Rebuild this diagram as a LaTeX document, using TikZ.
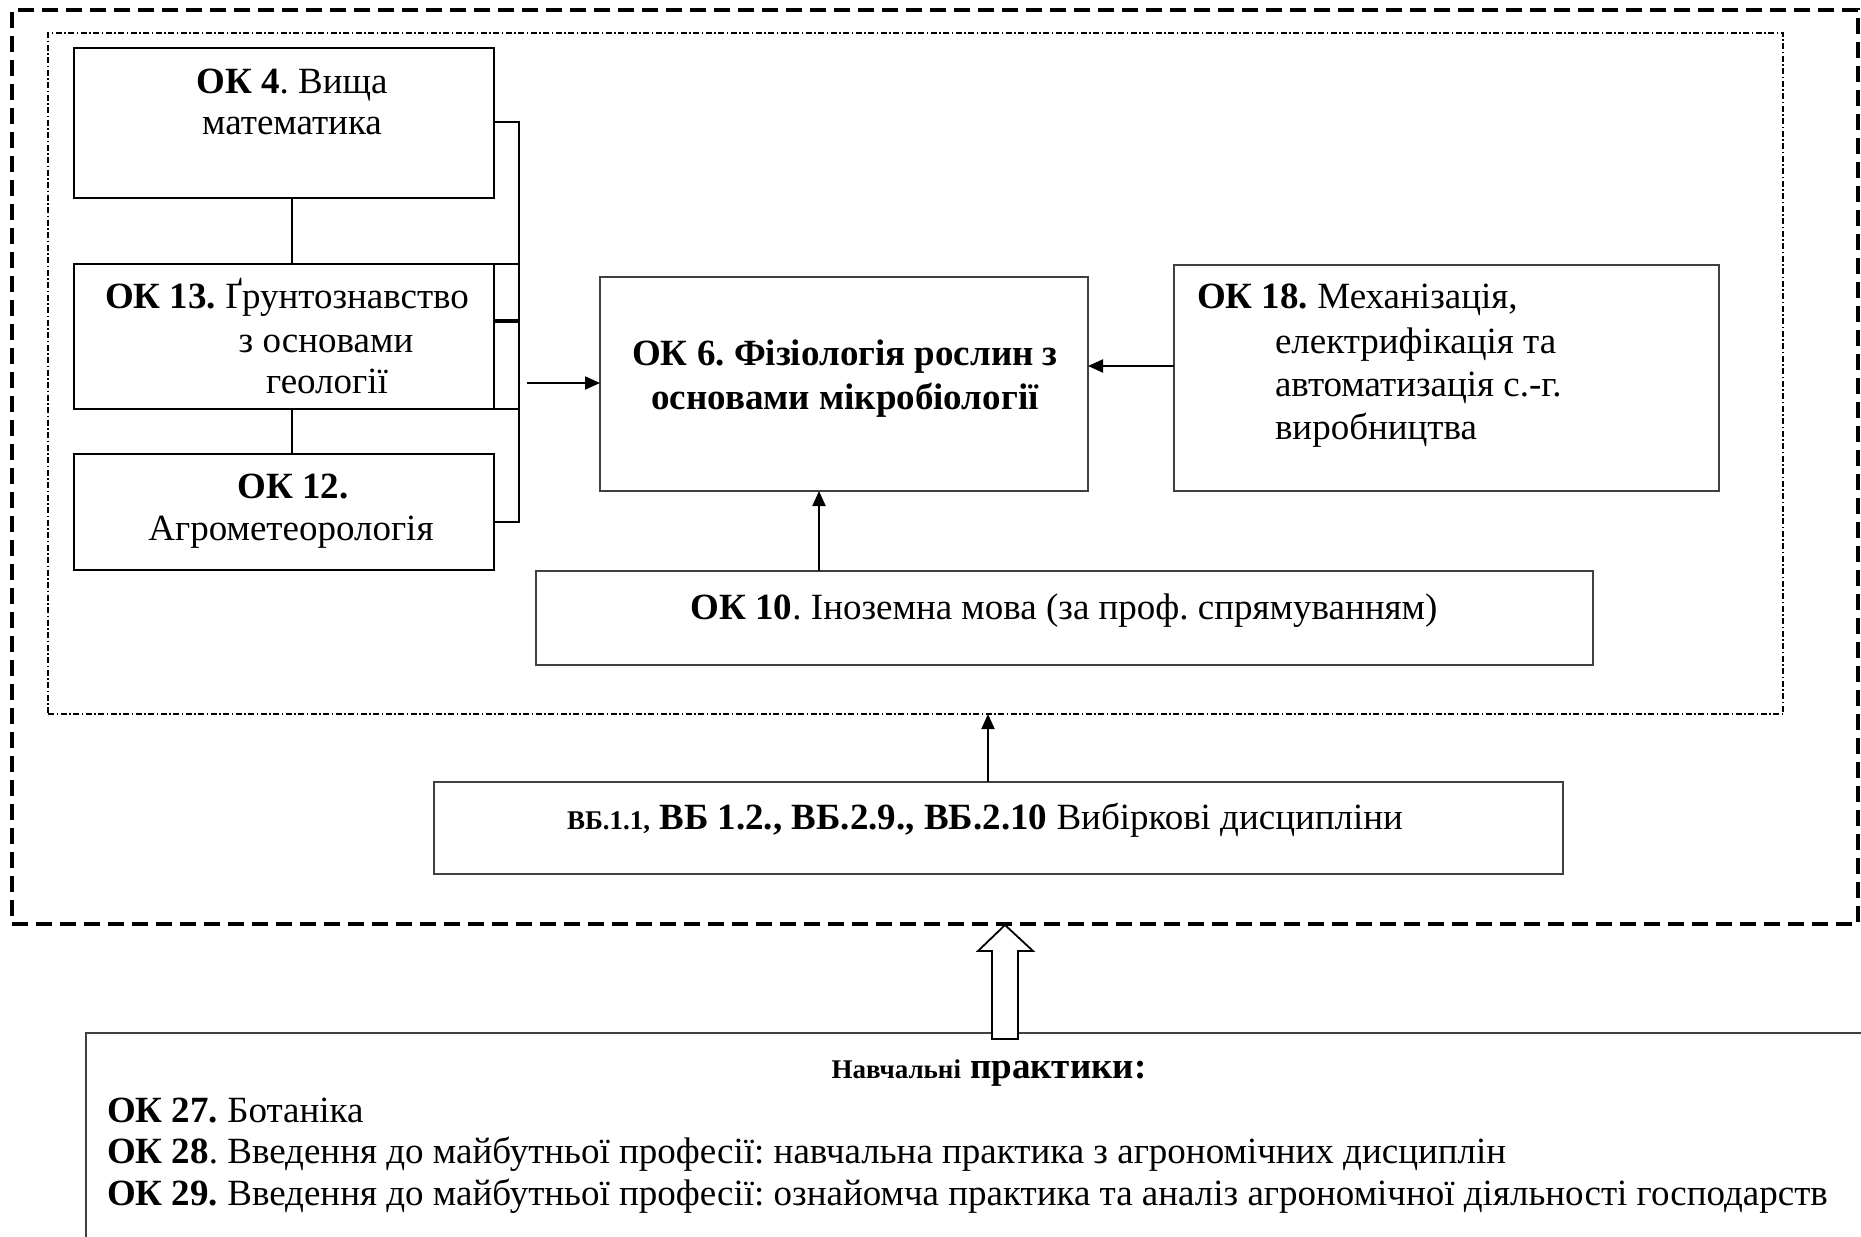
\documentclass[tikz,border=0pt]{standalone}
\usepackage{fontspec}
\setmainfont{Liberation Serif}
\usetikzlibrary{arrows.meta,fit}
\newcommand\mainsize{\fontsize{37}{44}\selectfont}
\newcommand\smallsz{\fontsize{27}{32}\selectfont}
\frenchspacing
\begin{document}
\begin{tikzpicture}[x=1pt,y=-1pt,
  every node/.style={inner sep=0pt, outer sep=0pt},
  blackbox/.style={draw=black, line width=2pt},
  graybox/.style={draw=black!75, line width=1.4pt},
  txt/.style={anchor=base, font=\mainsize},
  txtl/.style={anchor=base west, font=\mainsize},
  link/.style={line width=2pt},
  arr/.style={line width=2pt, -{Triangle[length=15pt,width=13pt]}},
  outerframe/.style={draw=black, line width=4pt, dash pattern=on 16pt off 8pt},
  innerframe/.style={draw=black, line width=1.5pt, dash pattern=on 6pt off 2.5pt on 1.5pt off 2.5pt},
]
\useasboundingbox (0,0) rectangle (1861,1237);
\clip (0,0) rectangle (1861,1237);

% frames
\node[outerframe, fit={(12,10) (1858,924)}] (outer) {};
\node[innerframe, fit={(48,33) (1783,714)}] (inner) {};

% boxes
\node[blackbox, fit={(74,48) (494,198)}] (ok4) {};
\node[blackbox, fit={(74,264) (494,409)}] (ok13) {};
\node[blackbox, fit={(74,454) (494,570)}] (ok12) {};
\node[graybox, fit={(600,277) (1088,491)}] (ok6) {};
\node[graybox, fit={(1174,265) (1719,491)}] (ok18) {};
\node[graybox, fit={(536,571) (1593,665)}] (ok10) {};
\node[graybox, fit={(434,782) (1563,874)}] (vb) {};
\node[graybox, fit={(86,1033) (1900,1300)}] (prac) {};

% texts
\node[txt] (t4a) at (292,93) {\textbf{ОК 4}. Вища};
\node[txt] (t4b) at (292,134) {математика};
\node[txt] (t13a) at (287,308) {\textbf{ОК 13.} Ґрунтознавство};
\node[txt] (t13b) at (326,352) {з основами};
\node[txt] (t13c) at (327,393) {геології};
\node[txt] (t12a) at (293,498) {\textbf{ОК 12.}};
\node[txt] (t12b) at (291,540) {Агрометеорологія};
\node[txt] (t6a) at (845,365) {\textbf{ОК 6. Фізіологія рослин з}};
\node[txt] (t6b) at (845,409) {\textbf{основами мікробіології}};
\node[txtl] (t18a) at (1197,308) {\textbf{ОК 18.} Механізація,};
\node[txtl] (t18b) at (1275,353) {електрифікація та};
\node[txtl] (t18c) at (1275,396) {автоматизація с.-г.};
\node[txtl] (t18d) at (1275,439) {виробництва};
\node[txt] (t10) at (1064,619) {\textbf{ОК 10}. Іноземна мова (за проф. спрямуванням)};
\node[txt] (tvb) at (985,829) {{\smallsz\textbf{ВБ.1.1,}} \textbf{ВБ 1.2., ВБ.2.9., ВБ.2.10} Вибіркові дисципліни};
\node[txt] (tpr) at (989,1078) {\textbf{{\smallsz Навчальні} практики:}};
\node[txtl] (tp1) at (107,1122) {\textbf{ОК 27.} Ботаніка};
\node[txtl] (tp2) at (107,1163) {\textbf{ОК 28}. Введення до майбутньої професії: навчальна практика з агрономічних дисциплін};
\node[txtl] (tp3) at (107,1205) {\textbf{ОК 29.} Введення до майбутньої професії: ознайомча практика та аналіз агрономічної діяльності господарств};

% connectors on the left
\coordinate (vx) at (292,0);
\draw[link] (ok4.south -| vx) -- (ok13.north -| vx);
\draw[link] (ok13.south -| vx) -- (ok12.north -| vx);
\coordinate (b1) at (519,122);
\coordinate (b2) at (519,522);
\coordinate (b3) at (519,321);
\draw[link] (ok4.east |- b1) -- (b1) -- (b2) -- (ok12.east |- b2);
\draw[link] (ok13.north east) -- (ok13.north east -| b1);
\draw[link] (ok13.south east) -- (ok13.south east -| b1);
\draw[line width=3.5pt] (ok13.east |- b3) -- (b3);
\coordinate (bk) at (527,383);
\draw[arr] (bk) -- (ok6.west |- bk);

% other arrows
\coordinate (r18) at (0,366);
\draw[arr] (ok18.west |- r18) -- (ok6.east |- r18);
\coordinate (c10) at (819,0);
\draw[arr] (ok10.north -| c10) -- (ok6.south -| c10);
\coordinate (cvb) at (988,0);
\draw[arr] (vb.north -| cvb) -- (inner.south -| cvb);

% hollow block arrow
\draw[line width=1.8pt, fill=white, line join=miter]
  (992,1039) -- (992,951) -- (978,951) -- (1005,925) -- (1033,951) -- (1018,951) -- (1018,1039) -- cycle;
\end{tikzpicture}
\end{document}
